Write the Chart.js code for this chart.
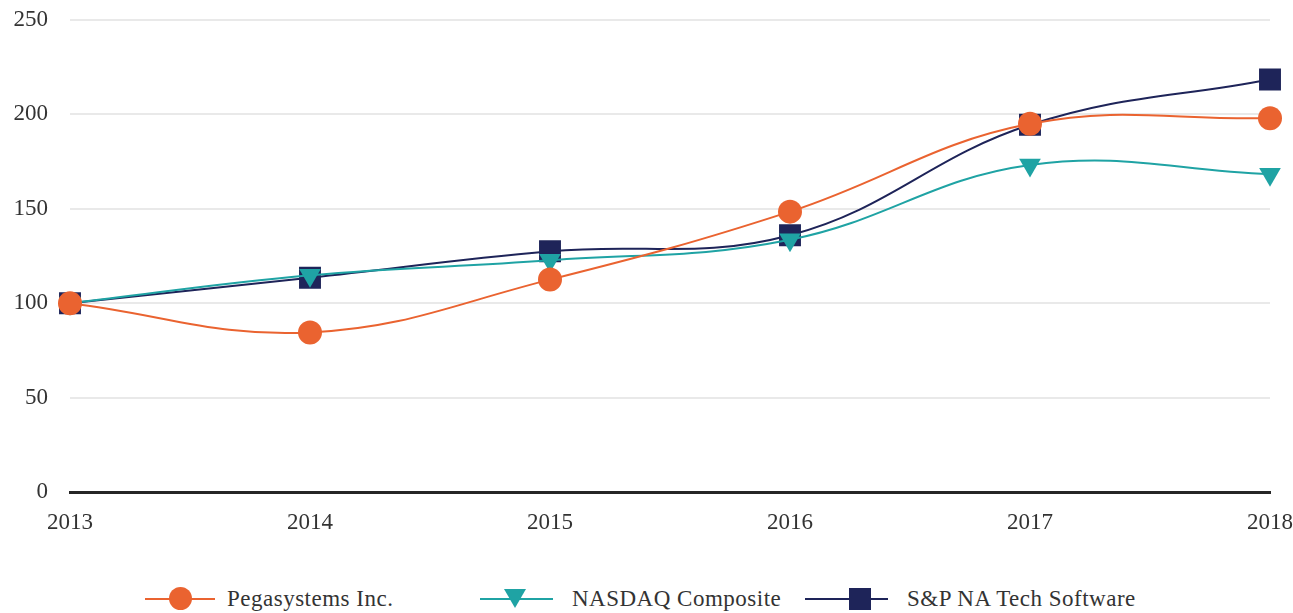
<!DOCTYPE html>
<html>
<head>
<meta charset="utf-8">
<script src="https://cdn.jsdelivr.net/npm/chart.js@4.4.0/dist/chart.umd.min.js"></script>
<style>
  html, body { margin: 0; padding: 0; background: #fff; }
  #wrap { position: relative; width: 1293px; height: 613px; }
  #chartBox { position: absolute; left: 0; top: 0; width: 1293px; height: 552px; }
  #legend {
    position: absolute; left: 0; top: 586px; width: 1293px; height: 28px;
    font-family: "Liberation Serif", "DejaVu Serif", serif; font-size: 23px; color: #333;
    letter-spacing: 0.5px;
  }
  .item { position: absolute; top: 0; display: flex; align-items: center; white-space: nowrap; }
  .sym { position: relative; height: 26px; }
  .sym .ln { position: absolute; left: 0; right: 0; top: 12px; height: 2px; }
  .sym .mk { position: absolute; top: 2px; }
</style>
</head>
<body>
<div id="wrap">
  <div id="chartBox"><canvas id="perfChart"></canvas></div>
  <div id="legend"></div>
</div>
<script>
const years = ['2013', '2014', '2015', '2016', '2017', '2018'];
const pegasystems = [100, 84.5, 112.5, 148.5, 195, 198];
const nasdaq = [100, 114.8, 122.7, 133.6, 173.2, 168.3];
const spTechSoftware = [100, 113.5, 127.5, 136, 194.5, 218.5];
const yTicks = [0, 50, 100, 150, 200, 250];

const ORANGE = '#ea6330';
const TEAL = '#1fa3a4';
const NAVY = '#1e2459';
const FONT = '"Liberation Serif", "DejaVu Serif", serif';

const series = [
  { label: 'Pegasystems Inc.', data: pegasystems, color: ORANGE, style: 'circle', radius: 12, rotation: 0 },
  { label: 'NASDAQ Composite', data: nasdaq, color: TEAL, style: 'triangle', radius: 12.5, rotation: 180 },
  { label: 'S&P NA Tech Software', data: spTechSoftware, color: NAVY, style: 'rect', radius: 15.5, rotation: 0 }
];
// legend layout: left edge of line, line length, marker centre offset, gap to text
const legendPos = [
  { left: 145, len: 70, mark: 35, gap: 12 },
  { left: 480, len: 73, mark: 35, gap: 19 },
  { left: 805, len: 83, mark: 55, gap: 19 }
];

const legendEl = document.getElementById('legend');
series.forEach((s, i) => {
  const p = legendPos[i];
  const item = document.createElement('div');
  item.className = 'item';
  item.style.left = p.left + 'px';
  let mk;
  if (s.style === 'circle') {
    mk = `<span class="mk" style="left:${p.mark - 11}px;top:1px;width:23px;height:23px;border-radius:50%;background:${s.color}"></span>`;
  } else if (s.style === 'triangle') {
    mk = `<span class="mk" style="left:${p.mark - 11}px;top:3px;width:0;height:0;border-left:11px solid transparent;border-right:11px solid transparent;border-top:19px solid ${s.color}"></span>`;
  } else {
    mk = `<span class="mk" style="left:${p.mark - 11}px;width:22px;height:22px;background:${s.color}"></span>`;
  }
  item.innerHTML = `<span class="sym" style="width:${p.len}px;margin-right:${p.gap}px"><span class="ln" style="background:${s.color}"></span>${mk}</span><span>${s.label}</span>`;
  legendEl.appendChild(item);
});

// dataset 0 is drawn last, so Pegasystems sits on top like in the original
const ctx = document.getElementById('perfChart').getContext('2d');
new Chart(ctx, {
  type: 'line',
  data: {
    labels: years,
    datasets: series.map(s => ({
      label: s.label,
      data: s.data,
      borderColor: s.color,
      backgroundColor: s.color,
      borderWidth: 2,
      tension: 0.4,
      pointStyle: s.style,
      pointRadius: s.radius,
      pointRotation: s.rotation,
      pointBorderWidth: 0,
      pointBackgroundColor: s.color
    }))
  },
  options: {
    responsive: true,
    maintainAspectRatio: false,
    animation: false,
    layout: { padding: { top: 20, right: 23, left: 0, bottom: 0 } },
    plugins: { legend: { display: false }, tooltip: { enabled: false } },
    scales: {
      x: {
        offset: false,
        grid: { display: false, drawTicks: false },
        border: { display: true, color: '#262626', width: 3 },
        ticks: { color: '#333', font: { family: FONT, size: 23 }, padding: 17, maxRotation: 0 },
        afterFit: s => { s.height = 60; s.paddingLeft = 0; s.paddingRight = 0; }
      },
      y: {
        min: 0,
        max: 250,
        afterBuildTicks: s => { s.ticks = yTicks.map(v => ({ value: v })); },
        grid: { color: ctx => ctx.tick && ctx.tick.value === 0 ? 'rgba(0,0,0,0)' : '#e9e9e9', lineWidth: 2, drawTicks: false },
        border: { display: false },
        ticks: { color: '#333', font: { family: FONT, size: 23 }, padding: 22 },
        afterFit: s => { s.width = 70; s.paddingTop = 0; s.paddingBottom = 0; }
      }
    }
  }
});
</script>
</body>
</html>
